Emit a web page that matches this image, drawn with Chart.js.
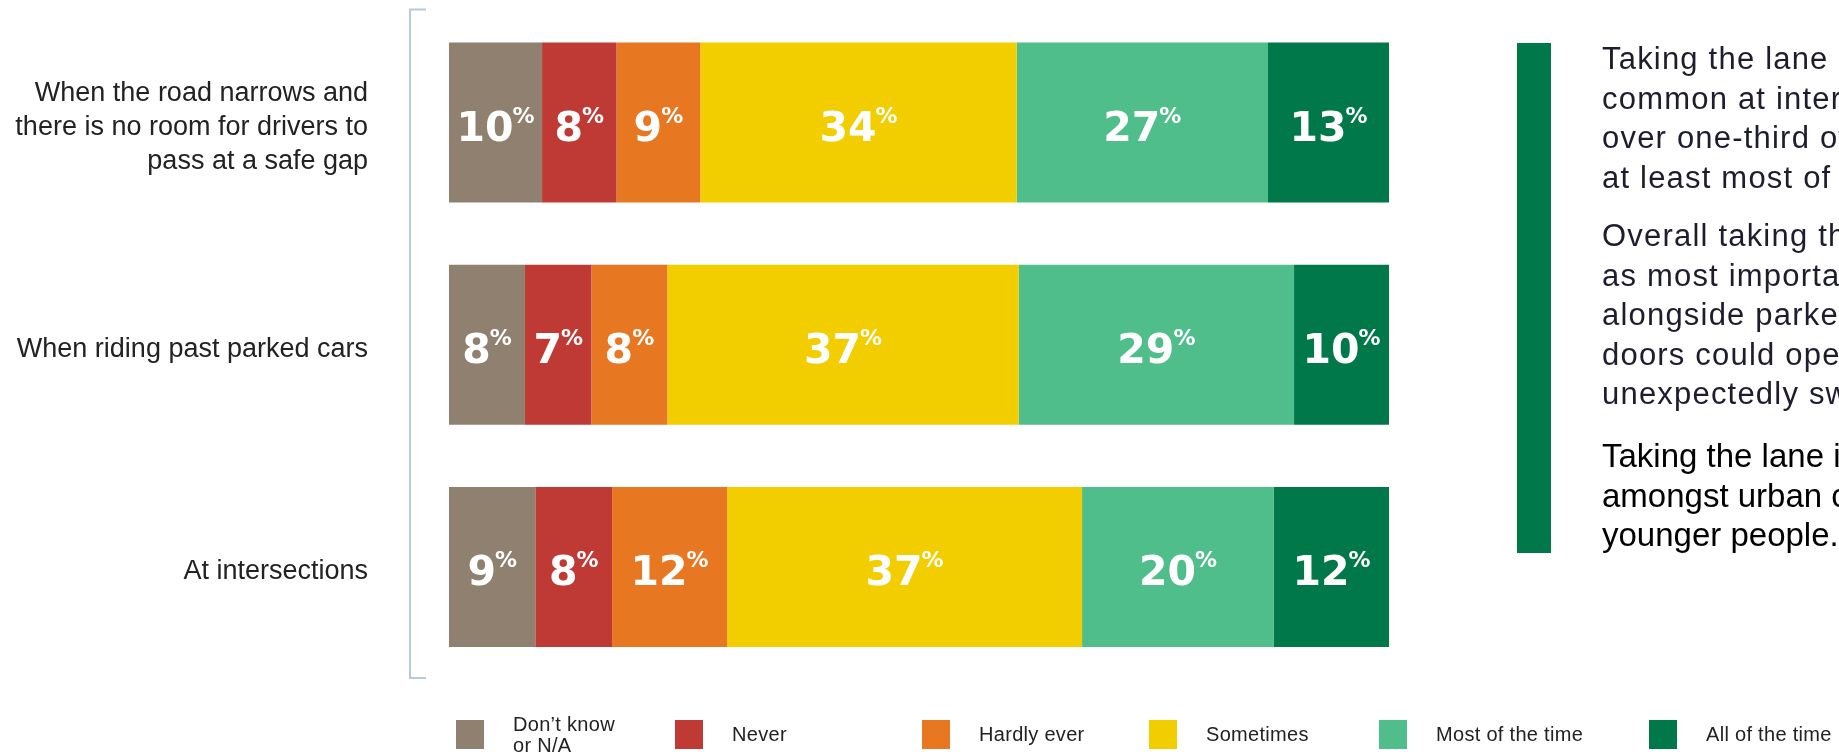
<!DOCTYPE html>
<html>
<head>
<meta charset="utf-8">
<script src="https://cdn.jsdelivr.net/npm/chart.js@4.4.1/dist/chart.umd.min.js"></script>
<style>
  html, body { margin: 0; padding: 0; background: #fff; overflow: hidden; }
  #wrap { position: relative; width: 1839px; height: 756px; overflow: hidden; }
  #chart { position: absolute; left: 0; top: 0; }
  .note-bar { position: absolute; left: 1517px; top: 43px; width: 34px; height: 510px; background: #00784a; }
  .para { position: absolute; left: 1602px; white-space: nowrap; font-family: "Liberation Sans", Arial, sans-serif; line-height: 39.5px; }
  .p1, .p2 { font-size: 31px; letter-spacing: 1.2px; color: #1d1d2e; }
  .p3 { font-size: 33px; color: #000; }
  .legend-item { position: absolute; top: 720px; height: 29px; display: flex; align-items: center; }
  .legend-item .sw { width: 28px; height: 29px; flex: none; }
  .legend-item .tx { margin-left: 29px; font-family: "Liberation Sans", Arial, sans-serif; font-size: 20px; line-height: 21px; color: #222; white-space: pre-line; letter-spacing: 0.3px; }
</style>
</head>
<body>
<div id="wrap">
  <canvas id="chart" width="1839" height="756"></canvas>
  <div class="note-bar"></div>
  <div class="para p1" style="top:39px">Taking the lane is most<br>common at intersections, with<br>over one-third of riders doing so<br>at least most of the time.</div>
  <div class="para p2" style="top:216px">Overall taking the lane was rated<br>as most important when riding<br>alongside parked cars, as car<br>doors could open or vehicles<br>unexpectedly swerve out.</div>
  <div class="para p3" style="top:436px">Taking the lane is more common<br>amongst urban cyclists and<br>younger people.</div>
  <div id="legend"></div>
</div>
<script>
// situations (y axis)
const questions = [
  ["When the road narrows and", "there is no room for drivers to", "pass at a safe gap"],
  "When riding past parked cars",
  "At intersections"
]

// answer categories
const seriesNames = ["Don’t know\nor N/A", "Never", "Hardly ever", "Sometimes", "Most of the time", "All of the time"]
const seriesColors = ["#8f8070", "#c03a35", "#e87722", "#f2cd00", "#50be8a", "#00784a"]

// percentages per situation
const dontKnow   = [10, 8, 9]
const never      = [8, 7, 8]
const hardlyEver = [9, 8, 12]
const sometimes  = [34, 37, 37]
const mostOfTime = [27, 29, 20]
const allOfTime  = [13, 10, 12]

const series = [dontKnow, never, hardlyEver, sometimes, mostOfTime, allOfTime]

// each row is drawn as a full 100% bar
const rowTotals = questions.map((q, i) => series.reduce((s, arr) => s + arr[i], 0))

const datasets = series.map((arr, k) => ({
  label: seriesNames[k],
  data: arr.map((v, i) => v / rowTotals[i] * 100),
  raw: arr,
  backgroundColor: seriesColors[k],
  borderWidth: 0,
  categoryPercentage: 1,
  barPercentage: 0.72
}))

const valueLabels = {
  id: 'valueLabels',
  afterDatasetsDraw(chart) {
    const ctx = chart.ctx
    const numFont = 'bold 41px "DejaVu Sans"'
    const pctFont = 'bold 22px "DejaVu Sans"'
    ctx.save()
    ctx.fillStyle = '#fff'
    ctx.textBaseline = 'alphabetic'
    ctx.textAlign = 'left'
    chart.data.datasets.forEach((ds, i) => {
      const meta = chart.getDatasetMeta(i)
      meta.data.forEach((bar, j) => {
        const num = String(ds.raw[j])
        ctx.font = numFont
        const wNum = ctx.measureText(num).width
        ctx.font = pctFont
        const wPct = ctx.measureText('%').width
        const cx = (bar.x + bar.base) / 2
        const x0 = cx - (wNum - 1 + wPct) / 2
        ctx.font = numFont
        ctx.fillText(num, x0, bar.y + 18)
        ctx.font = pctFont
        ctx.fillText('%', x0 + wNum - 1, bar.y)
      })
    })
    ctx.restore()
  }
}

// thin bracket to the left of the bars
const bracket = {
  id: 'bracket',
  beforeDatasetsDraw(chart) {
    const { ctx, chartArea } = chart
    const x = chartArea.left - 39
    ctx.save()
    ctx.strokeStyle = '#b9c9d8'
    ctx.lineWidth = 2
    ctx.beginPath()
    ctx.moveTo(x + 16, chartArea.top - 2)
    ctx.lineTo(x, chartArea.top - 2)
    ctx.lineTo(x, chartArea.bottom)
    ctx.lineTo(x + 16, chartArea.bottom)
    ctx.stroke()
    ctx.restore()
  }
}

new Chart(document.getElementById('chart'), {
  type: 'bar',
  data: { labels: questions, datasets: datasets },
  options: {
    indexAxis: 'y',
    responsive: false,
    animation: false,
    devicePixelRatio: 1,
    layout: { padding: { left: 0, right: 450, top: 11.5, bottom: 78 } },
    plugins: {
      legend: { display: false },
      tooltip: { enabled: false }
    },
    scales: {
      x: { stacked: true, min: 0, max: 100, display: false },
      y: {
        stacked: true,
        grid: { display: false, drawTicks: false },
        border: { display: false },
        ticks: {
          padding: 81,
          labelOffset: 5,
          color: '#222',
          font: { family: '"Liberation Sans", Arial, sans-serif', size: 27, lineHeight: 1.26 }
        },
        afterFit(scale) {
          scale.width = 449
          scale.paddingTop = 0
          scale.paddingBottom = 0
        }
      }
    }
  },
  plugins: [bracket, valueLabels]
})

// legend built from the series
const legendLeft = [456, 675, 922, 1149, 1379, 1649]
const legend = document.getElementById('legend')
seriesNames.forEach((name, k) => {
  const item = document.createElement('div')
  item.className = 'legend-item'
  item.style.left = legendLeft[k] + 'px'
  item.innerHTML = '<div class="sw" style="background:' + seriesColors[k] + '"></div><div class="tx"></div>'
  item.querySelector('.tx').textContent = name
  legend.appendChild(item)
})
</script>
</body>
</html>
